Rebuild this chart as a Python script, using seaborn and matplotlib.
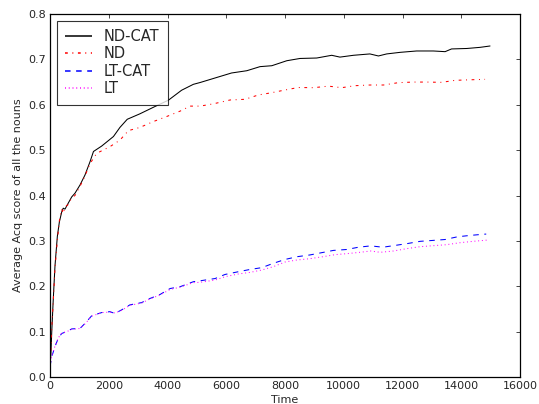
import matplotlib
matplotlib.use("Agg")
import matplotlib.pyplot as plt
from matplotlib.lines import Line2D
import seaborn as sns

# Acq score curves, one x/y pair per series
ndcat_t = [0, 30, 60, 110, 170, 250, 320, 400, 450, 510, 620, 740, 850, 1020, 1190,
           1360, 1480, 1760, 2160, 2380, 2630, 3060, 3570, 4030, 4480, 4880, 5110, 5670,
           6180, 6700, 7150, 7550, 8060, 8510, 9080, 9590, 9870, 10330, 10890, 11180,
           11460, 11920, 12480, 13050, 13450, 13670, 14190, 14640, 14980]
ndcat = [0.03, 0.05, 0.10, 0.17, 0.245, 0.31, 0.342, 0.364, 0.372, 0.37, 0.383, 0.397,
         0.405, 0.423, 0.445, 0.474, 0.497, 0.509, 0.53, 0.55, 0.568, 0.58, 0.596, 0.61,
         0.632, 0.645, 0.649, 0.66, 0.67, 0.675, 0.684, 0.686, 0.697, 0.702, 0.703, 0.709,
         0.705, 0.709, 0.712, 0.7075, 0.712, 0.7155, 0.7185, 0.7185, 0.717, 0.723, 0.724,
         0.7265, 0.7295]

nd_t = [0, 30, 60, 110, 170, 250, 320, 400, 450, 510, 620, 740, 850, 1020, 1190, 1360,
        1590, 2040, 2380, 2670, 3060, 3520, 3970, 4430, 4770, 5110, 5560, 6130, 6640,
        7090, 7550, 8000, 8450, 8970, 9480, 9930, 10380, 10890, 11350, 11860, 12370,
        12820, 13330, 13790, 14300, 14810]
nd = [0.03, 0.06, 0.11, 0.165, 0.24, 0.30, 0.345, 0.37, 0.36, 0.375, 0.38, 0.395, 0.40,
      0.42, 0.443, 0.47, 0.493, 0.5076, 0.522, 0.543, 0.55, 0.563, 0.574, 0.586, 0.597,
      0.597, 0.602, 0.6105, 0.612, 0.6215, 0.6266, 0.6325, 0.638, 0.6376, 0.641, 0.6376,
      0.642, 0.6435, 0.6435, 0.6487, 0.650, 0.650, 0.6494, 0.6538, 0.655, 0.656]

ltcat_t = [0, 60, 170, 280, 400, 570, 740, 1020, 1190, 1420, 1760, 2040, 2210, 2440,
           2720, 3120, 3400, 3750, 4090, 4430, 4880, 5110, 5620, 5960, 6410, 6810, 7210,
           7600, 8000, 8400, 8850, 9250, 9650, 10100, 10500, 10920, 11330, 11750, 12160,
           12600, 13030, 13450, 13870, 14300, 14730, 14850]
ltcat = [0.023, 0.045, 0.067, 0.085, 0.096, 0.100, 0.106, 0.107, 0.118, 0.135, 0.142,
         0.144, 0.140, 0.148, 0.159, 0.164, 0.173, 0.182, 0.195, 0.199, 0.210, 0.212,
         0.217, 0.226, 0.232, 0.237, 0.241, 0.2505, 0.259, 0.265, 0.269, 0.274, 0.279,
         0.281, 0.286, 0.289, 0.286, 0.290, 0.294, 0.299, 0.301, 0.303, 0.309, 0.312,
         0.3145, 0.315]

lt_t = [0, 60, 170, 280, 400, 570, 740, 1020, 1190, 1420, 1760, 2040, 2210, 2440, 2720,
        3120, 3400, 3750, 4090, 4430, 4880, 5110, 5620, 5960, 6410, 6810, 7210, 7600,
        8000, 8400, 8850, 9300, 9700, 10100, 10550, 10920, 11240, 11690, 12140, 12600,
        13050, 13500, 13960, 14410, 14930]
lt = [0.025, 0.047, 0.068, 0.086, 0.097, 0.100, 0.105, 0.107, 0.117, 0.134, 0.142, 0.143,
      0.141, 0.147, 0.158, 0.163, 0.172, 0.181, 0.193, 0.198, 0.208, 0.2086, 0.2137, 0.221,
      0.227, 0.2306, 0.2358, 0.2431, 0.2534, 0.2578, 0.2608, 0.2652, 0.2696, 0.2718,
      0.2748, 0.2777, 0.2748, 0.2777, 0.2828, 0.2872, 0.2894, 0.2916, 0.296, 0.299, 0.302]

labels = ["ND-CAT", "ND", "LT-CAT", "LT"]
colors = ["#000000", "#ff0000", "#0000ff", "#ff00ff"]
styles = ["-", (0, (2, 3.3, 0.7, 3.3)), (0, (4, 4)), (0, (0.7, 2))]

sns.set_style("white")
plt.rcParams["font.family"] = ["DejaVu Sans"]
plt.rcParams["lines.scale_dashes"] = False

fig = plt.figure(figsize=(5.39, 4.04), dpi=100)
ax = fig.add_axes([50 / 539, 27 / 404, 470 / 539, 363 / 404])

lw = 0.75
data = [(ndcat_t, ndcat), (nd_t, nd), (ltcat_t, ltcat), (lt_t, lt)]
for (t, v), c, ls in zip(data, colors, styles):
    sns.lineplot(x=t, y=v, ax=ax, color=c, lw=lw, sort=False, linestyle=ls)

ax.set_xlim(0, 16000)
ax.set_ylim(0, 0.8)
ax.set_xticks(range(0, 16001, 2000))
ax.set_yticks([i / 10 for i in range(9)])
ax.set_yticklabels([f"{i / 10:.1f}" for i in range(9)])
ax.tick_params(direction="in", top=True, right=True, length=2.7, width=0.6,
               labelsize=8, pad=3)
for s in ax.spines.values():
    s.set_color("k")
    s.set_linewidth(0.9)

ax.set_xlabel("Time", fontsize=8, labelpad=3)
ax.set_ylabel("Average Acq score of all the nouns", fontsize=8, labelpad=4)

# proxy handles, a bit heavier so the colour reads in the short legend sample
proxies = [Line2D([], [], color=c, linestyle=ls, lw=1.1, solid_capstyle="butt",
                  dash_capstyle="butt", snap=False)
           for c, ls in zip(colors, styles)]
leg = ax.legend(proxies, labels, loc="upper left", fontsize=10.5,
                fancybox=False, frameon=True, handlelength=1.8, borderaxespad=0.45,
                labelspacing=0.15, handletextpad=0.8, borderpad=0.6)
leg.get_frame().set_edgecolor("k")
leg.get_frame().set_linewidth(0.8)

fig.savefig("out.png", dpi=100)
